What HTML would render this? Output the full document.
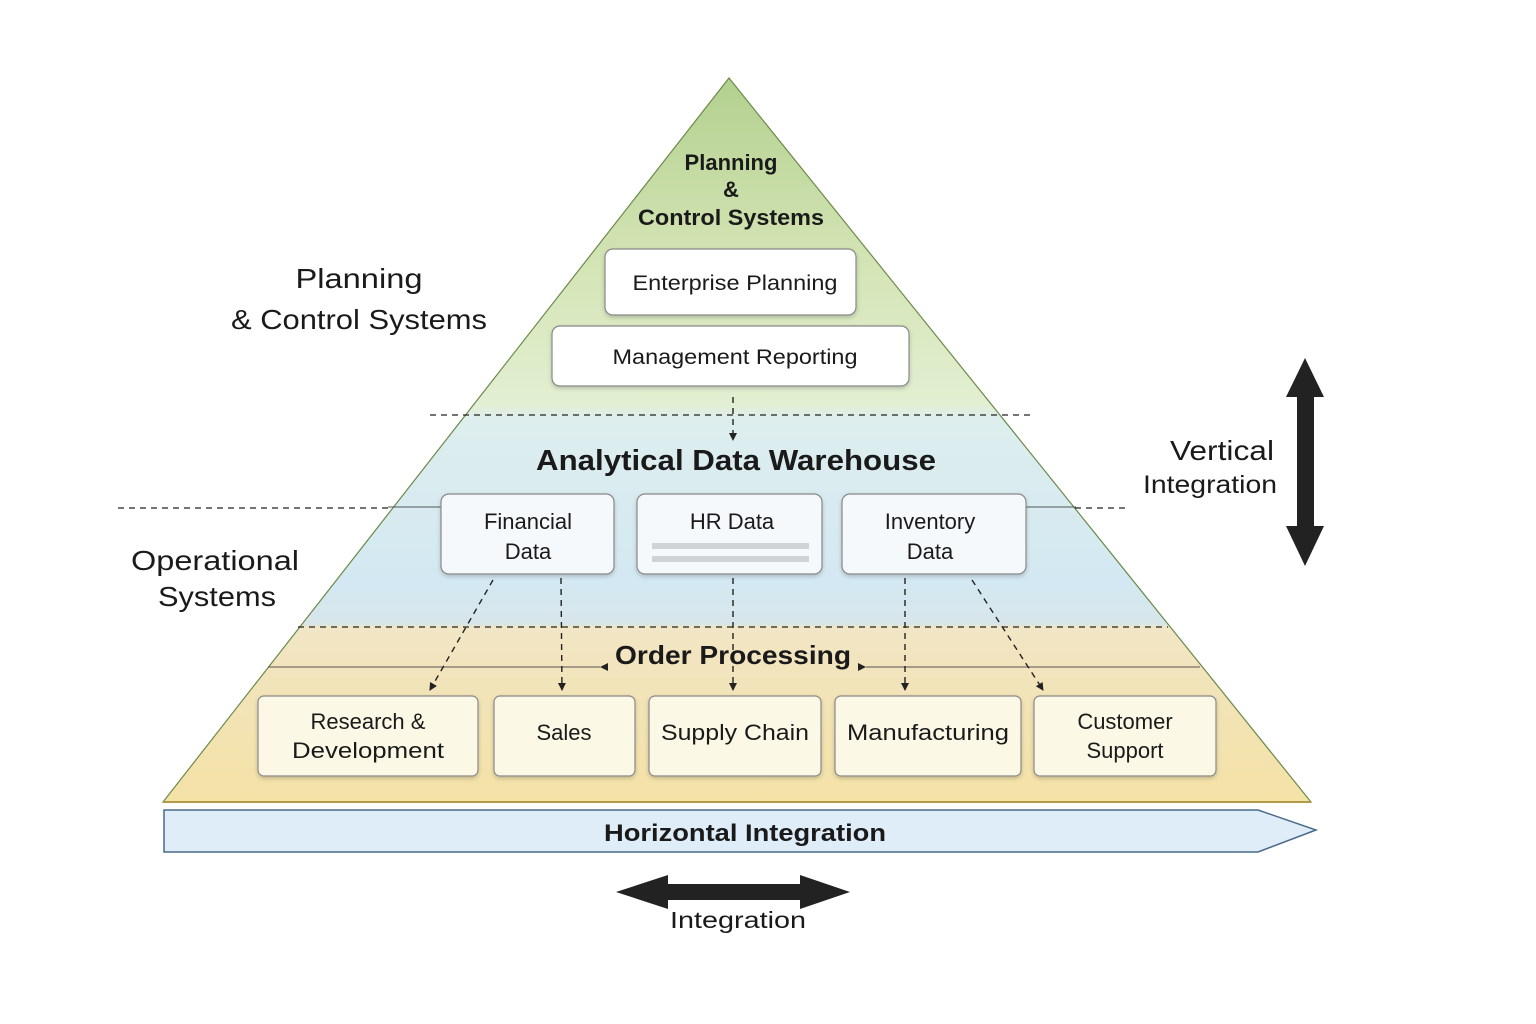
<!DOCTYPE html>
<html><head><meta charset="utf-8"><style>
body{margin:0;background:#fff;}
svg{display:block;font-family:"Liberation Sans","DejaVu Sans",sans-serif;}
</style></head><body>
<svg width="1536" height="1024" viewBox="0 0 1536 1024">
<defs>
<linearGradient id="pg" x1="0" y1="78" x2="0" y2="802" gradientUnits="userSpaceOnUse">
<stop offset="0" stop-color="#b3d08f"/>
<stop offset="0.25" stop-color="#d3e4b4"/>
<stop offset="0.45" stop-color="#e3efd2"/>
<stop offset="0.47" stop-color="#deeeee"/>
<stop offset="0.7" stop-color="#d3e8f2"/>
<stop offset="0.755" stop-color="#d8e6ea"/>
<stop offset="0.757" stop-color="#f1e6c6"/>
<stop offset="0.81" stop-color="#f2e4bd"/>
<stop offset="1" stop-color="#f4e2a6"/>
</linearGradient>
<marker id="ah" markerWidth="8" markerHeight="8" refX="7" refY="4" orient="auto" markerUnits="userSpaceOnUse"><path d="M0,0 L8,4 L0,8 z" fill="#222"/></marker>
<filter id="sh" x="-10%" y="-10%" width="120%" height="130%"><feDropShadow dx="0" dy="2" stdDeviation="2" flood-color="#000" flood-opacity="0.2"/></filter>
</defs>
<polygon points="729,78 1311,802 163,802" fill="url(#pg)" stroke="#6a8a4a" stroke-width="1.2"/>
<line x1="163" y1="802" x2="1311" y2="802" stroke="#b39a4a" stroke-width="2"/>
<g stroke="#222" stroke-width="1.3" stroke-dasharray="6,5">
<line x1="430" y1="415" x2="1030" y2="415"/>
<line x1="118" y1="508" x2="390" y2="508"/>
<line x1="1075" y1="508" x2="1128" y2="508"/>
<line x1="298" y1="627" x2="1168" y2="627"/>
</g>
<g stroke="#555" stroke-width="1">
<line x1="388" y1="507" x2="441" y2="507"/>
<line x1="1026" y1="507" x2="1076" y2="507"/>
<line x1="268" y1="667" x2="600" y2="667"/>
<line x1="866" y1="667" x2="1200" y2="667"/>
</g>
<g filter="url(#sh)" stroke="#888" stroke-width="1.2">
<rect x="605" y="249" width="251" height="66" rx="8" fill="#fff"/>
<rect x="552" y="326" width="357" height="60" rx="8" fill="#fff"/>
<rect x="441" y="494" width="173" height="80" rx="8" fill="#f6f9fb"/>
<rect x="637" y="494" width="185" height="80" rx="8" fill="#f6f9fb"/>
<rect x="842" y="494" width="184" height="80" rx="8" fill="#f6f9fb"/>
<rect x="258" y="696" width="220" height="80" rx="6" fill="#fcf8e6"/>
<rect x="494" y="696" width="141" height="80" rx="6" fill="#fcf8e6"/>
<rect x="649" y="696" width="172" height="80" rx="6" fill="#fcf8e6"/>
<rect x="835" y="696" width="186" height="80" rx="6" fill="#fcf8e6"/>
<rect x="1034" y="696" width="182" height="80" rx="6" fill="#fcf8e6"/>
</g>
<rect x="652" y="543" width="157" height="6" fill="#d0d3d6"/>
<rect x="652" y="556" width="157" height="6" fill="#d0d3d6"/>
<g stroke="#222" stroke-width="1.4" stroke-dasharray="6,5" fill="none" marker-end="url(#ah)">
<line x1="733" y1="397" x2="733" y2="440"/>
<line x1="493" y1="580" x2="430" y2="690"/>
<line x1="561" y1="578" x2="562" y2="690"/>
<line x1="733" y1="578" x2="733" y2="690"/>
<line x1="905" y1="578" x2="905" y2="690"/>
<line x1="972" y1="580" x2="1043" y2="690"/>
</g>
<path d="M600,667 l8,-4 l0,8z M866,667 l-8,-4 l0,8z" fill="#222"/>
<g fill="#1a1a1a" text-anchor="middle">
<text x="731" y="170" font-size="22" font-weight="bold">Planning</text>
<text x="731" y="197" font-size="22" font-weight="bold">&amp;</text>
<text x="731" y="225" font-size="22" font-weight="bold" textLength="186" lengthAdjust="spacingAndGlyphs">Control Systems</text>
<text x="735" y="290" font-size="21" textLength="205" lengthAdjust="spacingAndGlyphs">Enterprise Planning</text>
<text x="735" y="364" font-size="21" textLength="245" lengthAdjust="spacingAndGlyphs">Management Reporting</text>
<text x="736" y="470" font-size="29" font-weight="bold" textLength="400" lengthAdjust="spacingAndGlyphs">Analytical Data Warehouse</text>
<text x="528" y="529" font-size="22">Financial</text>
<text x="528" y="559" font-size="22">Data</text>
<text x="732" y="529" font-size="22">HR Data</text>
<text x="930" y="529" font-size="22">Inventory</text>
<text x="930" y="559" font-size="22">Data</text>
<text x="733" y="664" font-size="26" font-weight="bold" textLength="236" lengthAdjust="spacingAndGlyphs">Order Processing</text>
<text x="368" y="729" font-size="22">Research &amp;</text>
<text x="368" y="758" font-size="22" textLength="152" lengthAdjust="spacingAndGlyphs">Development</text>
<text x="564" y="740" font-size="22">Sales</text>
<text x="735" y="740" font-size="22" textLength="148" lengthAdjust="spacingAndGlyphs">Supply Chain</text>
<text x="928" y="740" font-size="22" textLength="162" lengthAdjust="spacingAndGlyphs">Manufacturing</text>
<text x="1125" y="729" font-size="22">Customer</text>
<text x="1125" y="758" font-size="22">Support</text>
<text x="359" y="288" font-size="28" textLength="127" lengthAdjust="spacingAndGlyphs">Planning</text>
<text x="359" y="329" font-size="28" textLength="256" lengthAdjust="spacingAndGlyphs">&amp; Control Systems</text>
<text x="215" y="570" font-size="28" textLength="168" lengthAdjust="spacingAndGlyphs">Operational</text>
<text x="217" y="606" font-size="28" textLength="118" lengthAdjust="spacingAndGlyphs">Systems</text>
<text x="1222" y="460" font-size="28" textLength="104" lengthAdjust="spacingAndGlyphs">Vertical</text>
<text x="1210" y="493" font-size="25" textLength="134" lengthAdjust="spacingAndGlyphs">Integration</text>
</g>
<polygon points="164,810 1258,810 1316,830 1258,852 164,852" fill="#deedf7" stroke="#4a6a8a" stroke-width="1.5"/>
<text x="745" y="841" font-size="24" font-weight="bold" text-anchor="middle" fill="#1a1a1a" textLength="282" lengthAdjust="spacingAndGlyphs">Horizontal Integration</text>
<path d="M616,892 L668,875 L668,884 L800,884 L800,875 L850,892 L800,909 L800,900 L668,900 L668,909 Z" fill="#222"/>
<text x="738" y="928" font-size="23" text-anchor="middle" fill="#1a1a1a" textLength="136" lengthAdjust="spacingAndGlyphs">Integration</text>
<path d="M1305,358 L1324,397 L1314,397 L1314,526 L1324,526 L1305,566 L1286,526 L1297,526 L1297,397 L1286,397 Z" fill="#222"/>
</svg>
</body></html>
